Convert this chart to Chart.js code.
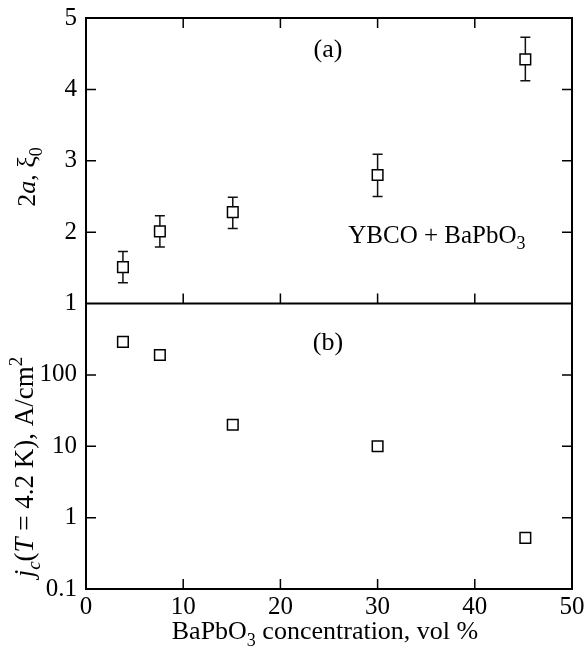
<!DOCTYPE html>
<html>
<head>
<meta charset="utf-8">
<script src="https://cdn.jsdelivr.net/npm/chart.js@4"></script>
<style>
  html, body { margin: 0; padding: 0; background: #fff; }
  #wrap { width: 587px; height: 649px; position: relative; }
</style>
</head>
<body>
<div id="wrap"><canvas id="c" width="587" height="649"></canvas></div>
<script>
// ---- data ----
const concentration = [3.8, 7.6, 15.1, 30.0, 45.2];          // vol %
const sizeA = [1.51, 2.01, 2.28, 2.80, 4.42];                 // 2a, xi0
const sizeErrLow = [1.29, 1.79, 2.05, 2.50, 4.12];
const sizeErrHigh = [1.73, 2.23, 2.49, 3.09, 4.73];
const jc = [290, 190, 20, 10, 0.52];                          // A/cm^2
const xTickValues = [0, 10, 20, 30, 40, 50];
const aTickValues = [1, 2, 3, 4, 5];
const jcTickValues = [0.1, 1, 10, 100, 1000];
const jcTickLabels = ['0.1', '1', '10', '100', ''];

const FONT = '"Liberation Serif", "Times New Roman", serif';
const TICK_FONT_SIZE = 25;

function drawRich(ctx, segs, x, y, align, base) {
  let total = 0;
  const fontOf = s => (s.italic ? 'italic ' : '') + Math.round(base * (s.scale || 1)) + 'px ' + FONT;
  const widths = segs.map(s => {
    ctx.font = fontOf(s);
    const w = ctx.measureText(s.t).width;
    total += w;
    return w;
  });
  let cx = align === 'center' ? x - total / 2 : x;
  segs.forEach((s, i) => {
    ctx.font = fontOf(s);
    ctx.fillText(s.t, cx, y + (s.dy || 0) * base);
    cx += widths[i];
  });
}

const framePlugin = {
  id: 'frame',
  afterDatasetsDraw(chart) {
    const ctx = chart.ctx;
    const xs = chart.scales.x, ya = chart.scales.ya, yb = chart.scales.yb;
    const L = xs.left, R = xs.right;
    const topA = ya.top, botA = ya.bottom, topB = yb.top, botB = yb.bottom;
    const frameTop = Math.min(topA, topB), frameBot = Math.max(botA, botB);
    ctx.save();
    // error bars for panel (a)
    ctx.strokeStyle = '#111';
    ctx.lineWidth = 1.5;
    concentration.forEach((xv, i) => {
      const px = xs.getPixelForValue(xv);
      const hi = ya.getPixelForValue(sizeErrHigh[i]);
      const lo = ya.getPixelForValue(sizeErrLow[i]);
      const c = ya.getPixelForValue(sizeA[i]);
      ctx.beginPath();
      ctx.moveTo(px, hi); ctx.lineTo(px, c - 5);
      ctx.moveTo(px, c + 5); ctx.lineTo(px, lo);
      ctx.moveTo(px - 5, hi); ctx.lineTo(px + 5, hi);
      ctx.moveTo(px - 5, lo); ctx.lineTo(px + 5, lo);
      ctx.stroke();
    });
    // frame
    ctx.lineWidth = 2;
    ctx.strokeStyle = '#000';
    ctx.beginPath();
    ctx.rect(L, frameTop, R - L, frameBot - frameTop);
    ctx.moveTo(L, botA); ctx.lineTo(R, botA);
    ctx.stroke();
    // inward ticks
    const T = 10;
    ctx.lineWidth = 1.5;
    ctx.beginPath();
    xTickValues.forEach(v => {
      if (v <= xs.min || v >= xs.max) return;
      const px = xs.getPixelForValue(v);
      ctx.moveTo(px, topA); ctx.lineTo(px, topA + T);
      ctx.moveTo(px, botA); ctx.lineTo(px, botA - T);
      ctx.moveTo(px, botB); ctx.lineTo(px, botB - T);
    });
    aTickValues.forEach(v => {
      if (v <= ya.min || v >= ya.max) return;
      const py = ya.getPixelForValue(v);
      ctx.moveTo(L, py); ctx.lineTo(L + T, py);
      ctx.moveTo(R, py); ctx.lineTo(R - T, py);
    });
    jcTickValues.forEach(v => {
      if (v <= yb.min || v >= yb.max) return;
      const py = yb.getPixelForValue(v);
      ctx.moveTo(L, py); ctx.lineTo(L + T, py);
      ctx.moveTo(R, py); ctx.lineTo(R - T, py);
    });
    ctx.stroke();
    ctx.restore();
  }
};

const textPlugin = {
  id: 'texts',
  afterDraw(chart) {
    const ctx = chart.ctx;
    const xs = chart.scales.x, ya = chart.scales.ya, yb = chart.scales.yb;
    ctx.save();
    ctx.fillStyle = '#000';
    ctx.textBaseline = 'alphabetic';
    ctx.textAlign = 'left';
    drawRich(ctx, [{t: '(a)'}], xs.getPixelForValue(24.9), ya.getPixelForValue(4.46), 'center', 26);
    drawRich(ctx, [{t: '(b)'}], xs.getPixelForValue(24.9), yb.getPixelForValue(220), 'center', 26);
    drawRich(ctx, [{t: 'YBCO + BaPbO'}, {t: '3', scale: 0.7, dy: 0.25}], xs.getPixelForValue(36.1), ya.getPixelForValue(1.85), 'center', 25);

    // x axis title
    drawRich(ctx, [{t: 'BaPbO'}, {t: '3', scale: 0.7, dy: 0.25}, {t: ' concentration, vol %'}], (xs.left + xs.right) / 2 - 4, 639, 'center', 26);

    // y axis title (a)
    ctx.save();
    ctx.translate(35, 177);
    ctx.rotate(-Math.PI / 2);
    drawRich(ctx, [{t: '2'}, {t: 'a', italic: true}, {t: ', ξ'}, {t: '0', scale: 0.7, dy: 0.25}], 0, 0, 'center', 26);
    ctx.restore();
    // y axis title (b)
    ctx.save();
    ctx.translate(33, 467);
    ctx.rotate(-Math.PI / 2);
    drawRich(ctx, [{t: 'j', italic: true}, {t: 'c', italic: true, scale: 0.7, dy: 0.25}, {t: '('}, {t: 'T', italic: true}, {t: ' = 4.2 K), A/cm'}, {t: '2', scale: 0.7, dy: -0.4}], 0, 0, 'center', 27);
    ctx.restore();
    ctx.restore();
  }
};

const tickFont = { family: FONT, size: TICK_FONT_SIZE, lineHeight: 1 };

new Chart(document.getElementById('c'), {
  type: 'scatter',
  data: {
    datasets: [
      {
        label: '2a',
        data: concentration.map((x, i) => ({ x, y: sizeA[i] })),
        yAxisID: 'ya',
        pointStyle: 'rect',
        pointRadius: 7.5,
        pointHoverRadius: 7.5,
        pointBorderWidth: 1.5,
        pointBorderColor: '#000',
        pointBackgroundColor: '#fff',
        showLine: false
      },
      {
        label: 'jc',
        data: concentration.map((x, i) => ({ x, y: jc[i] })),
        yAxisID: 'yb',
        pointStyle: 'rect',
        pointRadius: 7.5,
        pointHoverRadius: 7.5,
        pointBorderWidth: 1.5,
        pointBorderColor: '#000',
        pointBackgroundColor: '#fff',
        showLine: false
      }
    ]
  },
  options: {
    responsive: false,
    animation: false,
    events: [],
    layout: { padding: { top: 18, right: 15, left: 0, bottom: 0 } },
    plugins: { legend: { display: false }, tooltip: { enabled: false } },
    scales: {
      x: {
        type: 'linear',
        min: 0, max: 50,
        afterBuildTicks: s => { s.ticks = xTickValues.map(v => ({ value: v })); },
        afterFit: s => { s.height = 60; s.paddingLeft = 0; s.paddingRight = 0; },
        grid: { display: false, drawTicks: false },
        border: { display: false },
        ticks: { font: tickFont, color: '#000', padding: 6, maxRotation: 0, autoSkip: false, callback: v => String(v) }
      },
      yb: {
        type: 'logarithmic',
        position: 'left',
        stack: 'panels',
        stackWeight: 1,
        min: 0.1, max: 1000,
        afterBuildTicks: s => { s.ticks = jcTickValues.map(v => ({ value: v })); },
        afterFit: s => { s.width = 86; s.paddingTop = 0; s.paddingBottom = 0; },
        grid: { display: false, drawTicks: false },
        border: { display: false },
        ticks: { font: tickFont, color: '#000', padding: 9, autoSkip: false,
          callback: v => { const i = jcTickValues.indexOf(v); return i >= 0 ? jcTickLabels[i] : ''; } }
      },
      ya: {
        type: 'linear',
        position: 'left',
        stack: 'panels',
        stackWeight: 1,
        min: 1, max: 5,
        afterBuildTicks: s => { s.ticks = aTickValues.map(v => ({ value: v })); },
        afterFit: s => { s.width = 86; s.paddingTop = 0; s.paddingBottom = 0; },
        grid: { display: false, drawTicks: false },
        border: { display: false },
        ticks: { font: tickFont, color: '#000', padding: 9, autoSkip: false, callback: v => String(v) }
      }
    }
  },
  plugins: [framePlugin, textPlugin]
});
</script>
</body>
</html>
